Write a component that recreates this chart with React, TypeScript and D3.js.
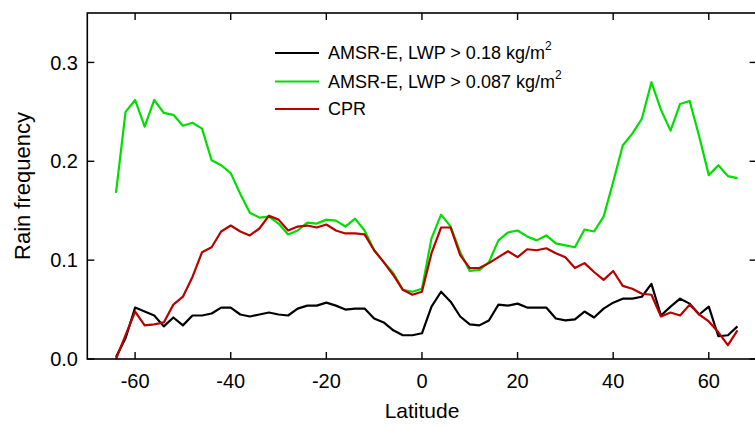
import React from "react";
import * as d3 from "d3";

const latitudes = [-64,-62,-60,-58,-56,-54,-52,-50,-48,-46,-44,-42,-40,-38,-36,-34,-32,-30,-28,-26,-24,-22,-20,-18,-16,-14,-12,-10,-8,-6,-4,-2,0,2,4,6,8,10,12,14,16,18,20,22,24,26,28,30,32,34,36,38,40,42,44,46,48,50,52,54,56,58,60,62,64,66];

const amsrHigh = [0.002,0.021,0.052,0.048,0.044,0.033,0.042,0.034,0.044,0.044,0.046,0.052,0.052,0.045,0.043,0.045,0.047,0.045,0.044,0.051,0.054,0.054,0.057,0.054,0.050,0.051,0.051,0.041,0.037,0.029,0.024,0.024,0.026,0.053,0.068,0.058,0.043,0.035,0.034,0.039,0.055,0.054,0.056,0.052,0.052,0.052,0.041,0.039,0.040,0.048,0.042,0.051,0.057,0.061,0.061,0.063,0.076,0.044,0.053,0.061,0.056,0.045,0.053,0.023,0.024,0.033];

const amsrLow = [0.168,0.250,0.262,0.235,0.262,0.249,0.247,0.236,0.239,0.233,0.201,0.196,0.188,0.167,0.148,0.143,0.144,0.137,0.126,0.130,0.138,0.137,0.141,0.140,0.134,0.142,0.130,0.110,0.098,0.087,0.070,0.068,0.071,0.122,0.146,0.134,0.108,0.089,0.090,0.098,0.120,0.128,0.130,0.124,0.120,0.125,0.117,0.115,0.113,0.131,0.129,0.144,0.179,0.216,0.228,0.243,0.280,0.252,0.231,0.258,0.261,0.225,0.186,0.196,0.185,0.183];

const cpr = [0.0,0.024,0.048,0.034,0.035,0.037,0.055,0.063,0.083,0.108,0.113,0.129,0.135,0.129,0.125,0.132,0.145,0.141,0.130,0.134,0.135,0.133,0.136,0.130,0.127,0.127,0.126,0.110,0.098,0.085,0.070,0.065,0.068,0.107,0.133,0.133,0.105,0.092,0.092,0.097,0.103,0.109,0.103,0.111,0.110,0.112,0.107,0.103,0.092,0.097,0.088,0.080,0.089,0.074,0.071,0.066,0.065,0.043,0.047,0.044,0.055,0.045,0.038,0.027,0.014,0.029];

const xTicks = [-60,-40,-20,0,20,40,60];
const yTicks = [0.0,0.1,0.2,0.3];

const series = [
  { name: "AMSR-E, LWP > 0.087 kg/m", values: amsrLow, color: "#00dd00" },
  { name: "AMSR-E, LWP > 0.18 kg/m", values: amsrHigh, color: "#000000" },
  { name: "CPR", values: cpr, color: "#b80000" },
];

export default function App() {
  const W = 755, H = 430;
  const left = 87.3, right = 756.6, top = 13, bottom = 359;
  const x = d3.scaleLinear().domain([-70, 70]).range([left, right]);
  const y = d3.scaleLinear().domain([0, 0.35]).range([bottom, top]);
  const font = "Arial, 'Liberation Sans', Helvetica, sans-serif";
  const line = (vals: number[]) =>
    d3.line<number>().x((_, i) => x(latitudes[i])).y((v) => y(v))(vals) || "";

  const legendX1 = 275, legendX2 = 319, legendTextX = 328;
  const legendYs = [53, 81.5, 109];
  const legendOrder = [series[1], series[0], series[2]];

  return (
    <svg width={W} height={H} style={{ position: "absolute", left: 0, top: 0, background: "#fff" }} fontFamily={font}>
      <rect x={0} y={0} width={W} height={H} fill="#fff" />
      {series.map((s) => (
        <path key={s.name} d={line(s.values)} fill="none" stroke={s.color} strokeWidth={2.2} strokeLinejoin="round" />
      ))}
      <rect x={left} y={top} width={right - left} height={bottom - top} fill="none" stroke="#000" strokeWidth={1.6} />
      {xTicks.map((t) => (
        <g key={"xt" + t}>
          <line x1={x(t)} x2={x(t)} y1={bottom} y2={bottom - 7} stroke="#000" strokeWidth={1.4} />
          <line x1={x(t)} x2={x(t)} y1={top} y2={top + 7} stroke="#000" strokeWidth={1.4} />
          <text x={x(t)} y={388} textAnchor="middle" fontSize={20} fill="#000">{t}</text>
        </g>
      ))}
      {yTicks.map((t) => (
        <g key={"yt" + t}>
          <line x1={left} x2={left + 7} y1={y(t)} y2={y(t)} stroke="#000" strokeWidth={1.4} />
          <line x1={right - 7} x2={right} y1={y(t)} y2={y(t)} stroke="#000" strokeWidth={1.4} />
          <text x={78} y={y(t)} dy="0.36em" textAnchor="end" fontSize={20} fill="#000">{t.toFixed(1)}</text>
        </g>
      ))}
      <text x={422} y={418} textAnchor="middle" fontSize={21} fill="#000">Latitude</text>
      <text transform={`translate(30,186) rotate(-90)`} textAnchor="middle" fontSize={22} fill="#000">Rain frequency</text>
      {legendOrder.map((s, i) => (
        <g key={"lg" + i}>
          <line x1={legendX1} x2={legendX2} y1={legendYs[i]} y2={legendYs[i]} stroke={s.color} strokeWidth={2.2} />
          <text x={legendTextX} y={legendYs[i]} dy="0.36em" fontSize={18} fill="#000">
            {s.name}
            {s.name !== "CPR" && <tspan fontSize={12} dy={-9}>2</tspan>}
          </text>
        </g>
      ))}
    </svg>
  );
}
